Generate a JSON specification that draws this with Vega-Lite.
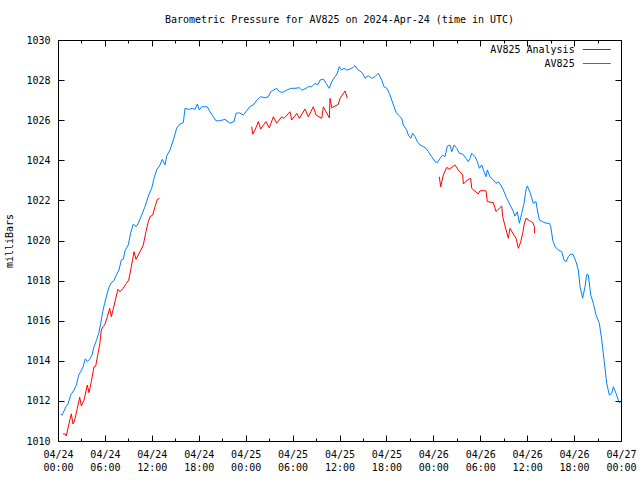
{
  "$schema": "https://vega.github.io/schema/vega-lite/v6.json",
  "width": 563,
  "height": 401,
  "autosize": {"type": "none"},
  "padding": {"left": 58, "top": 40, "right": 19, "bottom": 39},
  "background": "white",
  "title": {"text": "Barometric Pressure for AV825 on 2024-Apr-24 (time in UTC)", "font": "DejaVu Sans Mono", "fontSize": 10, "fontWeight": "normal", "color": "black", "offset": 10},
  "config": {
    "view": {"stroke": "black", "strokeWidth": 1},
    "axis": {"domain": false, "grid": false, "labelFont": "DejaVu Sans Mono", "labelFontSize": 10, "labelColor": "black", "tickColor": "black", "tickWidth": 1, "titleFont": "DejaVu Sans Mono", "titleFontSize": 10, "titleFontWeight": "normal", "titleColor": "black"},
    "legend": {"labelFont": "DejaVu Sans Mono", "labelFontSize": 10, "labelColor": "black"}
  },
  "datasets": {
    "obs": [
      {"hour":0.35,"mb":1011.35,"series":"AV825"},{"hour":0.51,"mb":1011.28,"series":"AV825"},{"hour":0.77,"mb":1011.5,"series":"AV825"},{"hour":1.02,"mb":1011.71,"series":"AV825"},{"hour":1.28,"mb":1011.85,"series":"AV825"},{"hour":1.62,"mb":1012.29,"series":"AV825"},{"hour":2.05,"mb":1012.54,"series":"AV825"},{"hour":2.34,"mb":1012.79,"series":"AV825"},{"hour":2.65,"mb":1013.29,"series":"AV825"},{"hour":2.9,"mb":1013.46,"series":"AV825"},{"hour":3.2,"mb":1013.7,"series":"AV825"},{"hour":3.49,"mb":1014.1,"series":"AV825"},{"hour":3.75,"mb":1013.96,"series":"AV825"},{"hour":4.09,"mb":1014.1,"series":"AV825"},{"hour":4.35,"mb":1014.29,"series":"AV825"},{"hour":4.6,"mb":1014.7,"series":"AV825"},{"hour":4.9,"mb":1015.0,"series":"AV825"},{"hour":5.21,"mb":1015.37,"series":"AV825"},{"hour":5.46,"mb":1015.87,"series":"AV825"},{"hour":5.72,"mb":1016.45,"series":"AV825"},{"hour":5.97,"mb":1016.87,"series":"AV825"},{"hour":6.23,"mb":1017.28,"series":"AV825"},{"hour":6.52,"mb":1017.66,"series":"AV825"},{"hour":6.82,"mb":1017.9,"series":"AV825"},{"hour":7.16,"mb":1018.0,"series":"AV825"},{"hour":7.46,"mb":1018.28,"series":"AV825"},{"hour":7.8,"mb":1018.53,"series":"AV825"},{"hour":8.1,"mb":1019.03,"series":"AV825"},{"hour":8.35,"mb":1019.06,"series":"AV825"},{"hour":8.57,"mb":1019.49,"series":"AV825"},{"hour":8.99,"mb":1019.78,"series":"AV825"},{"hour":9.3,"mb":1020.39,"series":"AV825"},{"hour":9.63,"mb":1020.82,"series":"AV825"},{"hour":9.98,"mb":1020.69,"series":"AV825"},{"hour":10.27,"mb":1020.86,"series":"AV825"},{"hour":10.7,"mb":1021.27,"series":"AV825"},{"hour":11.13,"mb":1021.69,"series":"AV825"},{"hour":11.55,"mb":1022.22,"series":"AV825"},{"hour":11.98,"mb":1022.6,"series":"AV825"},{"hour":12.32,"mb":1023.15,"series":"AV825"},{"hour":12.62,"mb":1023.52,"series":"AV825"},{"hour":13.05,"mb":1023.77,"series":"AV825"},{"hour":13.34,"mb":1024.05,"series":"AV825"},{"hour":13.68,"mb":1023.77,"series":"AV825"},{"hour":13.9,"mb":1024.21,"series":"AV825"},{"hour":14.32,"mb":1024.51,"series":"AV825"},{"hour":14.75,"mb":1025.01,"series":"AV825"},{"hour":15.18,"mb":1025.6,"series":"AV825"},{"hour":15.6,"mb":1025.81,"series":"AV825"},{"hour":16.03,"mb":1025.88,"series":"AV825"},{"hour":16.24,"mb":1026.59,"series":"AV825"},{"hour":16.66,"mb":1026.54,"series":"AV825"},{"hour":17.23,"mb":1026.59,"series":"AV825"},{"hour":17.52,"mb":1026.54,"series":"AV825"},{"hour":17.82,"mb":1026.81,"series":"AV825"},{"hour":18.07,"mb":1026.51,"series":"AV825"},{"hour":18.38,"mb":1026.67,"series":"AV825"},{"hour":19.09,"mb":1026.67,"series":"AV825"},{"hour":19.44,"mb":1026.42,"series":"AV825"},{"hour":19.86,"mb":1026.17,"series":"AV825"},{"hour":20.21,"mb":1025.97,"series":"AV825"},{"hour":20.63,"mb":1025.97,"series":"AV825"},{"hour":21.36,"mb":1026.04,"series":"AV825"},{"hour":22.0,"mb":1025.85,"series":"AV825"},{"hour":22.51,"mb":1025.93,"series":"AV825"},{"hour":22.76,"mb":1026.34,"series":"AV825"},{"hour":23.19,"mb":1026.37,"series":"AV825"},{"hour":23.7,"mb":1026.26,"series":"AV825"},{"hour":24.21,"mb":1026.51,"series":"AV825"},{"hour":24.56,"mb":1026.69,"series":"AV825"},{"hour":24.98,"mb":1026.76,"series":"AV825"},{"hour":25.41,"mb":1027.0,"series":"AV825"},{"hour":25.92,"mb":1027.17,"series":"AV825"},{"hour":26.47,"mb":1027.12,"series":"AV825"},{"hour":26.9,"mb":1027.17,"series":"AV825"},{"hour":27.2,"mb":1027.42,"series":"AV825"},{"hour":27.54,"mb":1027.5,"series":"AV825"},{"hour":27.97,"mb":1027.59,"series":"AV825"},{"hour":28.3,"mb":1027.42,"series":"AV825"},{"hour":28.74,"mb":1027.39,"series":"AV825"},{"hour":29.25,"mb":1027.5,"series":"AV825"},{"hour":29.76,"mb":1027.59,"series":"AV825"},{"hour":30.31,"mb":1027.59,"series":"AV825"},{"hour":30.86,"mb":1027.62,"series":"AV825"},{"hour":31.17,"mb":1027.5,"series":"AV825"},{"hour":31.59,"mb":1027.56,"series":"AV825"},{"hour":32.01,"mb":1027.67,"series":"AV825"},{"hour":32.45,"mb":1027.67,"series":"AV825"},{"hour":32.87,"mb":1027.84,"series":"AV825"},{"hour":33.21,"mb":1027.76,"series":"AV825"},{"hour":33.51,"mb":1028.0,"series":"AV825"},{"hour":33.93,"mb":1028.05,"series":"AV825"},{"hour":34.28,"mb":1027.84,"series":"AV825"},{"hour":34.7,"mb":1027.59,"series":"AV825"},{"hour":35.0,"mb":1027.92,"series":"AV825"},{"hour":35.43,"mb":1028.17,"series":"AV825"},{"hour":35.72,"mb":1028.34,"series":"AV825"},{"hour":35.98,"mb":1028.67,"series":"AV825"},{"hour":36.28,"mb":1028.5,"series":"AV825"},{"hour":36.58,"mb":1028.59,"series":"AV825"},{"hour":36.92,"mb":1028.5,"series":"AV825"},{"hour":37.34,"mb":1028.55,"series":"AV825"},{"hour":37.69,"mb":1028.62,"series":"AV825"},{"hour":37.98,"mb":1028.72,"series":"AV825"},{"hour":38.28,"mb":1028.55,"series":"AV825"},{"hour":38.62,"mb":1028.45,"series":"AV825"},{"hour":38.97,"mb":1028.34,"series":"AV825"},{"hour":39.26,"mb":1028.09,"series":"AV825"},{"hour":39.68,"mb":1028.22,"series":"AV825"},{"hour":40.12,"mb":1028.09,"series":"AV825"},{"hour":40.54,"mb":1028.17,"series":"AV825"},{"hour":40.96,"mb":1028.34,"series":"AV825"},{"hour":41.4,"mb":1028.0,"series":"AV825"},{"hour":41.69,"mb":1027.67,"series":"AV825"},{"hour":42.04,"mb":1027.59,"series":"AV825"},{"hour":42.37,"mb":1027.34,"series":"AV825"},{"hour":42.68,"mb":1027.0,"series":"AV825"},{"hour":43.23,"mb":1026.4,"series":"AV825"},{"hour":43.52,"mb":1026.26,"series":"AV825"},{"hour":43.96,"mb":1026.09,"series":"AV825"},{"hour":44.16,"mb":1025.76,"series":"AV825"},{"hour":44.6,"mb":1025.51,"series":"AV825"},{"hour":44.8,"mb":1025.26,"series":"AV825"},{"hour":45.11,"mb":1025.1,"series":"AV825"},{"hour":45.36,"mb":1025.35,"series":"AV825"},{"hour":45.66,"mb":1025.18,"series":"AV825"},{"hour":45.95,"mb":1024.93,"series":"AV825"},{"hour":46.3,"mb":1024.76,"series":"AV825"},{"hour":46.72,"mb":1024.68,"series":"AV825"},{"hour":47.06,"mb":1024.6,"series":"AV825"},{"hour":47.36,"mb":1024.43,"series":"AV825"},{"hour":47.79,"mb":1024.18,"series":"AV825"},{"hour":48.22,"mb":1023.93,"series":"AV825"},{"hour":48.51,"mb":1023.88,"series":"AV825"},{"hour":48.86,"mb":1024.1,"series":"AV825"},{"hour":49.2,"mb":1024.26,"series":"AV825"},{"hour":49.49,"mb":1024.18,"series":"AV825"},{"hour":49.79,"mb":1024.71,"series":"AV825"},{"hour":50.13,"mb":1024.76,"series":"AV825"},{"hour":50.35,"mb":1024.43,"series":"AV825"},{"hour":50.65,"mb":1024.76,"series":"AV825"},{"hour":50.99,"mb":1024.6,"series":"AV825"},{"hour":51.32,"mb":1024.35,"series":"AV825"},{"hour":51.76,"mb":1024.31,"series":"AV825"},{"hour":52.18,"mb":1024.1,"series":"AV825"},{"hour":52.47,"mb":1023.93,"series":"AV825"},{"hour":52.69,"mb":1024.1,"series":"AV825"},{"hour":52.91,"mb":1024.35,"series":"AV825"},{"hour":53.33,"mb":1024.18,"series":"AV825"},{"hour":53.63,"mb":1023.93,"series":"AV825"},{"hour":53.88,"mb":1023.6,"series":"AV825"},{"hour":54.19,"mb":1023.77,"series":"AV825"},{"hour":54.48,"mb":1023.43,"series":"AV825"},{"hour":54.74,"mb":1023.18,"series":"AV825"},{"hour":54.9,"mb":1023.52,"series":"AV825"},{"hour":55.25,"mb":1023.18,"series":"AV825"},{"hour":55.67,"mb":1023.02,"series":"AV825"},{"hour":56.02,"mb":1022.85,"series":"AV825"},{"hour":56.31,"mb":1022.93,"series":"AV825"},{"hour":56.62,"mb":1022.77,"series":"AV825"},{"hour":56.95,"mb":1022.52,"series":"AV825"},{"hour":57.39,"mb":1022.1,"series":"AV825"},{"hour":57.81,"mb":1021.77,"series":"AV825"},{"hour":58.15,"mb":1021.52,"series":"AV825"},{"hour":58.45,"mb":1021.22,"series":"AV825"},{"hour":58.74,"mb":1021.44,"series":"AV825"},{"hour":59.0,"mb":1020.86,"series":"AV825"},{"hour":59.3,"mb":1021.35,"series":"AV825"},{"hour":59.6,"mb":1021.85,"series":"AV825"},{"hour":59.85,"mb":1022.52,"series":"AV825"},{"hour":60.02,"mb":1022.72,"series":"AV825"},{"hour":60.37,"mb":1022.4,"series":"AV825"},{"hour":60.79,"mb":1021.85,"series":"AV825"},{"hour":61.13,"mb":1021.94,"series":"AV825"},{"hour":61.3,"mb":1021.52,"series":"AV825"},{"hour":61.56,"mb":1021.02,"series":"AV825"},{"hour":61.99,"mb":1020.94,"series":"AV825"},{"hour":62.41,"mb":1020.86,"series":"AV825"},{"hour":62.84,"mb":1020.86,"series":"AV825"},{"hour":63.02,"mb":1020.69,"series":"AV825"},{"hour":63.27,"mb":1020.02,"series":"AV825"},{"hour":63.56,"mb":1019.69,"series":"AV825"},{"hour":63.98,"mb":1019.53,"series":"AV825"},{"hour":64.42,"mb":1019.44,"series":"AV825"},{"hour":64.71,"mb":1019.03,"series":"AV825"},{"hour":64.97,"mb":1018.94,"series":"AV825"},{"hour":65.26,"mb":1019.19,"series":"AV825"},{"hour":65.57,"mb":1019.33,"series":"AV825"},{"hour":65.9,"mb":1019.28,"series":"AV825"},{"hour":66.25,"mb":1018.94,"series":"AV825"},{"hour":66.54,"mb":1018.53,"series":"AV825"},{"hour":66.76,"mb":1017.7,"series":"AV825"},{"hour":67.1,"mb":1017.12,"series":"AV825"},{"hour":67.4,"mb":1017.7,"series":"AV825"},{"hour":67.62,"mb":1018.31,"series":"AV825"},{"hour":67.82,"mb":1018.28,"series":"AV825"},{"hour":68.13,"mb":1017.28,"series":"AV825"},{"hour":68.46,"mb":1016.87,"series":"AV825"},{"hour":68.81,"mb":1016.28,"series":"AV825"},{"hour":69.23,"mb":1015.87,"series":"AV825"},{"hour":69.54,"mb":1015.04,"series":"AV825"},{"hour":69.83,"mb":1014.04,"series":"AV825"},{"hour":70.17,"mb":1012.88,"series":"AV825"},{"hour":70.51,"mb":1012.29,"series":"AV825"},{"hour":70.81,"mb":1012.37,"series":"AV825"},{"hour":71.02,"mb":1012.71,"series":"AV825"},{"hour":71.37,"mb":1012.37,"series":"AV825"},{"hour":71.66,"mb":1012.04,"series":"AV825"},{"hour":71.88,"mb":1011.88,"series":"AV825"}
    ],
    "ana": [
      {"hour":0.64,"mb":1010.35,"series":"AV825 Analysis","seg":1},{"hour":0.93,"mb":1010.35,"series":"AV825 Analysis","seg":1},{"hour":1.06,"mb":1010.25,"series":"AV825 Analysis","seg":1},{"hour":1.37,"mb":1010.8,"series":"AV825 Analysis","seg":1},{"hour":1.7,"mb":1011.35,"series":"AV825 Analysis","seg":1},{"hour":1.92,"mb":1010.85,"series":"AV825 Analysis","seg":1},{"hour":2.14,"mb":1011.05,"series":"AV825 Analysis","seg":1},{"hour":2.47,"mb":1011.63,"series":"AV825 Analysis","seg":1},{"hour":2.78,"mb":1012.18,"series":"AV825 Analysis","seg":1},{"hour":2.98,"mb":1011.75,"series":"AV825 Analysis","seg":1},{"hour":3.33,"mb":1012.04,"series":"AV825 Analysis","seg":1},{"hour":3.75,"mb":1012.79,"series":"AV825 Analysis","seg":1},{"hour":3.96,"mb":1012.41,"series":"AV825 Analysis","seg":1},{"hour":4.26,"mb":1012.96,"series":"AV825 Analysis","seg":1},{"hour":4.6,"mb":1013.7,"series":"AV825 Analysis","seg":1},{"hour":4.82,"mb":1013.74,"series":"AV825 Analysis","seg":1},{"hour":5.12,"mb":1014.37,"series":"AV825 Analysis","seg":1},{"hour":5.33,"mb":1014.79,"series":"AV825 Analysis","seg":1},{"hour":5.54,"mb":1015.54,"series":"AV825 Analysis","seg":1},{"hour":5.76,"mb":1015.7,"series":"AV825 Analysis","seg":1},{"hour":5.97,"mb":1015.79,"series":"AV825 Analysis","seg":1},{"hour":6.31,"mb":1016.2,"series":"AV825 Analysis","seg":1},{"hour":6.61,"mb":1016.62,"series":"AV825 Analysis","seg":1},{"hour":6.82,"mb":1016.2,"series":"AV825 Analysis","seg":1},{"hour":7.03,"mb":1016.53,"series":"AV825 Analysis","seg":1},{"hour":7.33,"mb":1017.03,"series":"AV825 Analysis","seg":1},{"hour":7.67,"mb":1017.57,"series":"AV825 Analysis","seg":1},{"hour":7.93,"mb":1017.44,"series":"AV825 Analysis","seg":1},{"hour":8.31,"mb":1017.61,"series":"AV825 Analysis","seg":1},{"hour":8.74,"mb":1017.86,"series":"AV825 Analysis","seg":1},{"hour":9.04,"mb":1018.03,"series":"AV825 Analysis","seg":1},{"hour":9.3,"mb":1018.53,"series":"AV825 Analysis","seg":1},{"hour":9.55,"mb":1019.06,"series":"AV825 Analysis","seg":1},{"hour":9.72,"mb":1019.44,"series":"AV825 Analysis","seg":1},{"hour":9.98,"mb":1019.06,"series":"AV825 Analysis","seg":1},{"hour":10.49,"mb":1019.44,"series":"AV825 Analysis","seg":1},{"hour":10.91,"mb":1019.78,"series":"AV825 Analysis","seg":1},{"hour":11.25,"mb":1020.44,"series":"AV825 Analysis","seg":1},{"hour":11.55,"mb":1020.94,"series":"AV825 Analysis","seg":1},{"hour":11.77,"mb":1021.19,"series":"AV825 Analysis","seg":1},{"hour":12.11,"mb":1021.27,"series":"AV825 Analysis","seg":1},{"hour":12.41,"mb":1021.69,"series":"AV825 Analysis","seg":1},{"hour":12.7,"mb":1022.05,"series":"AV825 Analysis","seg":1},{"hour":12.96,"mb":1022.1,"series":"AV825 Analysis","seg":1},
      {"hour":24.77,"mb":1025.68,"series":"AV825 Analysis","seg":2},{"hour":24.9,"mb":1025.3,"series":"AV825 Analysis","seg":2},{"hour":25.19,"mb":1025.51,"series":"AV825 Analysis","seg":2},{"hour":25.62,"mb":1025.93,"series":"AV825 Analysis","seg":2},{"hour":25.92,"mb":1025.56,"series":"AV825 Analysis","seg":2},{"hour":26.35,"mb":1025.8,"series":"AV825 Analysis","seg":2},{"hour":26.6,"mb":1025.93,"series":"AV825 Analysis","seg":2},{"hour":27.02,"mb":1025.62,"series":"AV825 Analysis","seg":2},{"hour":27.54,"mb":1026.17,"series":"AV825 Analysis","seg":2},{"hour":27.97,"mb":1025.85,"series":"AV825 Analysis","seg":2},{"hour":28.61,"mb":1026.17,"series":"AV825 Analysis","seg":2},{"hour":28.9,"mb":1026.09,"series":"AV825 Analysis","seg":2},{"hour":29.67,"mb":1026.42,"series":"AV825 Analysis","seg":2},{"hour":29.89,"mb":1026.01,"series":"AV825 Analysis","seg":2},{"hour":30.53,"mb":1026.34,"series":"AV825 Analysis","seg":2},{"hour":30.86,"mb":1026.09,"series":"AV825 Analysis","seg":2},{"hour":31.59,"mb":1026.56,"series":"AV825 Analysis","seg":2},{"hour":32.01,"mb":1026.17,"series":"AV825 Analysis","seg":2},{"hour":32.65,"mb":1026.67,"series":"AV825 Analysis","seg":2},{"hour":33.0,"mb":1026.26,"series":"AV825 Analysis","seg":2},{"hour":33.73,"mb":1026.09,"series":"AV825 Analysis","seg":2},{"hour":33.93,"mb":1026.67,"series":"AV825 Analysis","seg":2},{"hour":34.7,"mb":1026.12,"series":"AV825 Analysis","seg":2},{"hour":34.79,"mb":1027.09,"series":"AV825 Analysis","seg":2},{"hour":35.0,"mb":1026.62,"series":"AV825 Analysis","seg":2},{"hour":35.85,"mb":1026.79,"series":"AV825 Analysis","seg":2},{"hour":36.07,"mb":1027.09,"series":"AV825 Analysis","seg":2},{"hour":36.71,"mb":1027.46,"series":"AV825 Analysis","seg":2},{"hour":37.0,"mb":1027.09,"series":"AV825 Analysis","seg":2},
      {"hour":48.77,"mb":1023.18,"series":"AV825 Analysis","seg":3},{"hour":48.94,"mb":1022.68,"series":"AV825 Analysis","seg":3},{"hour":49.28,"mb":1023.27,"series":"AV825 Analysis","seg":3},{"hour":49.71,"mb":1023.65,"series":"AV825 Analysis","seg":3},{"hour":50.04,"mb":1023.55,"series":"AV825 Analysis","seg":3},{"hour":50.77,"mb":1023.77,"series":"AV825 Analysis","seg":3},{"hour":51.19,"mb":1023.52,"series":"AV825 Analysis","seg":3},{"hour":51.76,"mb":1023.27,"series":"AV825 Analysis","seg":3},{"hour":51.84,"mb":1022.82,"series":"AV825 Analysis","seg":3},{"hour":52.35,"mb":1023.02,"series":"AV825 Analysis","seg":3},{"hour":52.78,"mb":1023.1,"series":"AV825 Analysis","seg":3},{"hour":52.91,"mb":1022.6,"series":"AV825 Analysis","seg":3},{"hour":53.75,"mb":1022.32,"series":"AV825 Analysis","seg":3},{"hour":53.97,"mb":1022.48,"series":"AV825 Analysis","seg":3},{"hour":54.74,"mb":1022.48,"series":"AV825 Analysis","seg":3},{"hour":54.9,"mb":1021.94,"series":"AV825 Analysis","seg":3},{"hour":55.67,"mb":1021.89,"series":"AV825 Analysis","seg":3},{"hour":56.02,"mb":1021.44,"series":"AV825 Analysis","seg":3},{"hour":56.75,"mb":1021.72,"series":"AV825 Analysis","seg":3},{"hour":56.87,"mb":1021.19,"series":"AV825 Analysis","seg":3},{"hour":57.17,"mb":1020.72,"series":"AV825 Analysis","seg":3},{"hour":57.59,"mb":1020.11,"series":"AV825 Analysis","seg":3},{"hour":57.81,"mb":1020.61,"series":"AV825 Analysis","seg":3},{"hour":58.23,"mb":1020.32,"series":"AV825 Analysis","seg":3},{"hour":58.58,"mb":1020.11,"series":"AV825 Analysis","seg":3},{"hour":58.87,"mb":1019.61,"series":"AV825 Analysis","seg":3},{"hour":59.18,"mb":1019.94,"series":"AV825 Analysis","seg":3},{"hour":59.43,"mb":1020.36,"series":"AV825 Analysis","seg":3},{"hour":59.6,"mb":1020.77,"series":"AV825 Analysis","seg":3},{"hour":59.85,"mb":1021.11,"series":"AV825 Analysis","seg":3},{"hour":60.28,"mb":1020.99,"series":"AV825 Analysis","seg":3},{"hour":60.71,"mb":1020.9,"series":"AV825 Analysis","seg":3},{"hour":60.92,"mb":1020.7,"series":"AV825 Analysis","seg":3},{"hour":60.94,"mb":1020.36,"series":"AV825 Analysis","seg":3}
    ]
  },
  "layer": [
    {
      "data": {"name": "ana"},
      "mark": {"type": "line", "strokeWidth": 1},
      "encoding": {
        "x": {"field": "hour", "type": "quantitative", "scale": {"domain": [0, 72], "nice": false, "zero": false},
          "axis": {"orient": "top", "values": [0,3,6,9,12,15,18,21,24,27,30,33,36,39,42,45,48,51,54,57,60,63,66,69,72], "labels": false, "title": null,
            "tickSize": {"condition": {"test": "datum.value % 6 === 0", "value": -6}, "value": -3}}},
        "y": {"field": "mb", "type": "quantitative", "scale": {"domain": [1010, 1030], "nice": false, "zero": false},
          "axis": {"orient": "right", "values": [1010,1012,1014,1016,1018,1020,1022,1024,1026,1028,1030], "labels": false, "title": null, "tickSize": -6}},
        "color": {"field": "series", "type": "nominal",
          "scale": {"domain": ["AV825 Analysis", "AV825"], "range": ["#ff0000", "#0080ff"]},
          "legend": {"orient": "none", "legendX": 533.33, "legendY": 4, "title": null, "symbolType": "M-3,0H3", "symbolSize": 87, "symbolStrokeWidth": 1, "labelAlign": "right", "labelOffset": -27.67, "rowPadding": 3}},
        "detail": {"field": "seg", "type": "nominal"}
      }
    },
    {
      "data": {"name": "obs"},
      "mark": {"type": "line", "strokeWidth": 1},
      "encoding": {
        "x": {"field": "hour", "type": "quantitative",
          "axis": {"orient": "bottom", "values": [0,3,6,9,12,15,18,21,24,27,30,33,36,39,42,45,48,51,54,57,60,63,66,69,72], "title": null,
            "tickSize": {"condition": {"test": "datum.value % 6 === 0", "value": -6}, "value": -3},
            "labelExpr": "datum.value % 6 === 0 ? ['04/' + (24 + floor(datum.value / 24)), (datum.value % 24 < 10 ? '0' : '') + (datum.value % 24) + ':00'] : ''",
            "labelPadding": 14, "labelFlush": false, "labelOverlap": false, "labelBound": false, "labelLineHeight": 13}},
        "y": {"field": "mb", "type": "quantitative",
          "axis": {"orient": "left", "values": [1010,1012,1014,1016,1018,1020,1022,1024,1026,1028,1030], "format": "d", "title": "milliBars", "tickSize": -6, "labelPadding": 14, "titlePadding": 11}},
        "color": {"field": "series", "type": "nominal"}
      }
    }
  ],
  "resolve": {"axis": {"x": "independent", "y": "independent"}}
}
